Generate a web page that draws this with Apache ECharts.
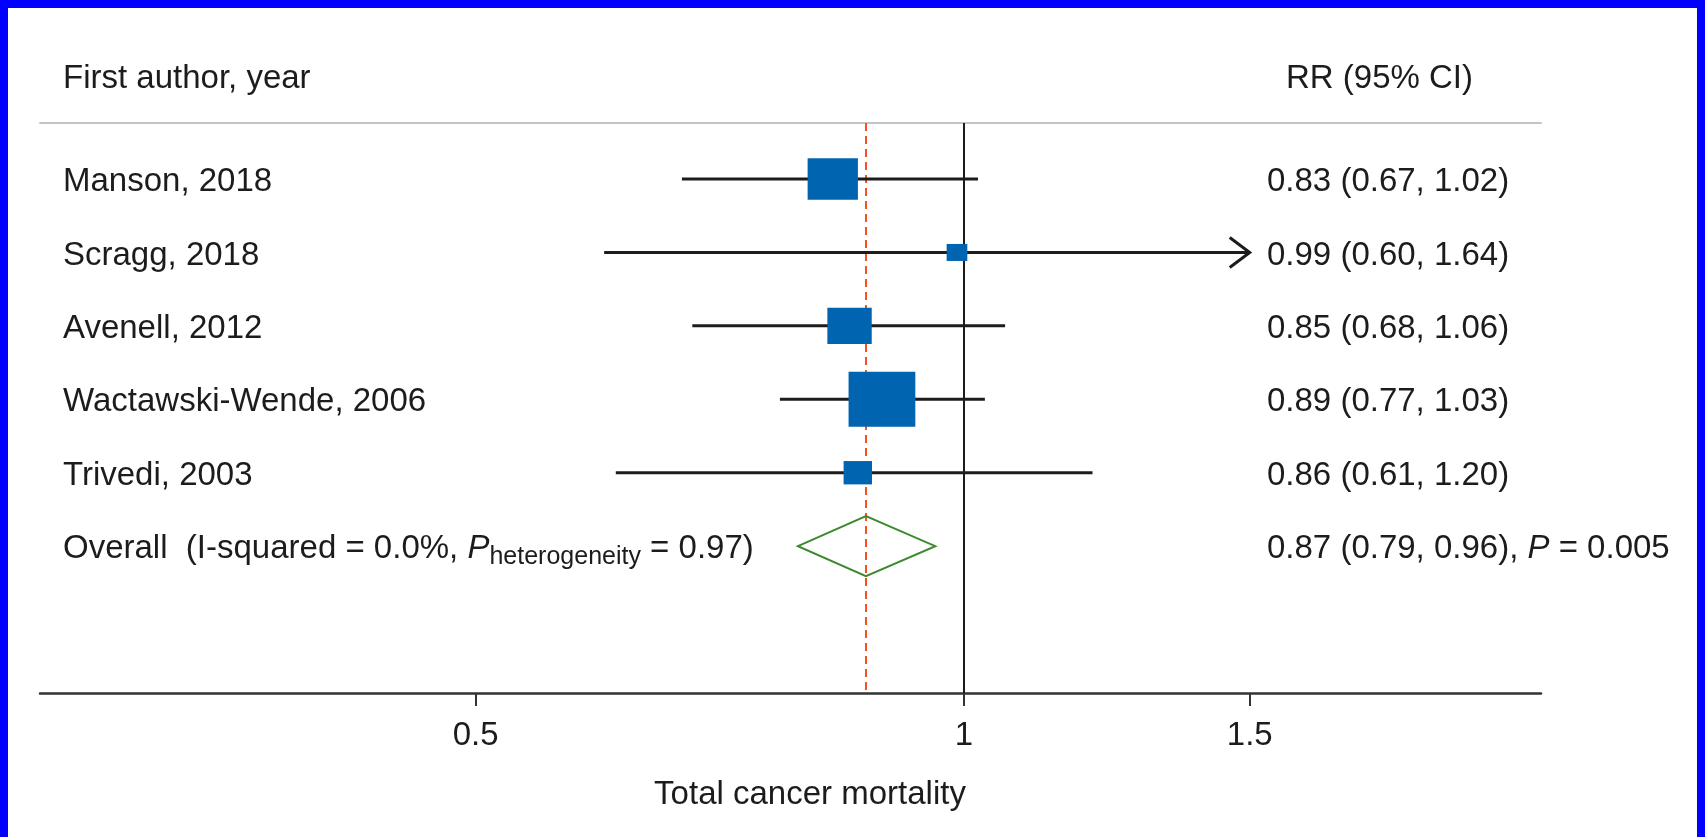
<!DOCTYPE html>
<html>
<head>
<meta charset="utf-8">
<script src="https://cdn.jsdelivr.net/npm/echarts@6/dist/echarts.min.js"></script>
<style>
html, body { margin: 0; padding: 0; background: #0000ff; width: 1705px; height: 837px; overflow: hidden; }
#forest { position: absolute; left: 8px; top: 8px; width: 1689px; height: 829px; background: #fff; }
</style>
</head>
<body>
<div id="forest"></div>
<script>
var studies = ['Manson, 2018', 'Scragg, 2018', 'Avenell, 2012', 'Wactawski-Wende, 2006', 'Trivedi, 2003'];
var rr = [0.83, 0.99, 0.85, 0.89, 0.86];
var ciLow = [0.67, 0.60, 0.68, 0.77, 0.61];
var ciHigh = [1.02, 1.64, 1.06, 1.03, 1.20];
// study weights (%)
var weights = [24.8, 4.2, 19.3, 43.7, 7.9];

var overallRR = 0.87, overallLow = 0.79, overallHigh = 0.96;
var iSquared = '0.0%', pHet = '0.97', pOverall = '0.005';

var tickValues = [0.5, 1, 1.5];
var axisMin = 0.2694, axisMax = 2.268;
var ciClip = 1.5;   // CIs beyond this get an arrow

var font = '"Liberation Sans", Arial, Helvetica, sans-serif';
var ink = '#1c1c1c';

function fmt(v) { return v.toFixed(2); }

var rows = studies.map(function (s, i) { return i; });
var overallRow = studies.length;

function renderCI(params, api) {
    var i = api.value(2);
    var hi = api.value(1);
    var a = api.coord([api.value(0), i]);
    var b = api.coord([Math.min(hi, ciClip), i]);
    var children = [{
        type: 'line',
        shape: { x1: a[0], y1: a[1], x2: b[0], y2: b[1] },
        style: { stroke: ink, lineWidth: 3 }
    }];
    if (hi > ciClip) {
        children.push({
            type: 'polyline',
            shape: { points: [[b[0] - 20, b[1] - 15], [b[0], b[1]], [b[0] - 20, b[1] + 15]] },
            style: { stroke: ink, lineWidth: 3, fill: 'none' }
        });
    }
    return { type: 'group', children: children };
}

function renderDiamond(params, api) {
    var row = api.value(3);
    var c = api.coord([api.value(0), row]);
    var l = api.coord([api.value(1), row]);
    var r = api.coord([api.value(2), row]);
    var h = 30;
    return {
        type: 'polygon',
        shape: { points: [[l[0], c[1]], [c[0], c[1] - h], [r[0], c[1]], [c[0], c[1] + h]] },
        style: { fill: 'none', stroke: '#3d8a2e', lineWidth: 2 }
    };
}

var rich = {
    n: { fontSize: 33, fontFamily: font, fill: ink },
    i: { fontSize: 33, fontFamily: font, fill: ink, fontStyle: 'italic' },
    s: { fontSize: 25, fontFamily: font, fill: ink, padding: [16, 0, 0, 0] }
};

function renderText(params, api) {
    var i = api.value(1);
    var y = api.coord([1, i])[1] + 3;
    var x0 = params.coordSys.x;
    var left, right;
    if (i < studies.length) {
        left = '{n|' + studies[i] + '}';
        right = '{n|' + fmt(rr[i]) + ' (' + fmt(ciLow[i]) + ', ' + fmt(ciHigh[i]) + ')}';
    } else {
        left = '{n|Overall  (I-squared = ' + iSquared + ', }{i|P}{s|heterogeneity}{n| = ' + pHet + ')}';
        right = '{n|' + fmt(overallRR) + ' (' + fmt(overallLow) + ', ' + fmt(overallHigh) + '), }{i|P}{n| = ' + pOverall + '}';
    }
    return {
        type: 'group',
        children: [
            { type: 'text', x: x0 + 23, y: y, style: { text: left, rich: rich, align: 'left', verticalAlign: 'middle' } },
            { type: 'text', x: x0 + 1227, y: y, style: { text: right, rich: rich, align: 'left', verticalAlign: 'middle' } }
        ]
    };
}

var chart = echarts.init(document.getElementById('forest'));

var option = {
    animation: false,
    grid: { left: 32, right: 156, top: 115, bottom: 144 },
    graphic: [
        { type: 'text', x: 55, y: 71, style: { text: 'First author, year', fontSize: 33, fontFamily: font, fill: ink, verticalAlign: 'middle' } },
        { type: 'text', x: 1278, y: 71, style: { text: 'RR (95% CI)', fontSize: 33, fontFamily: font, fill: ink, verticalAlign: 'middle' } }
    ],
    xAxis: [{
        type: 'log',
        min: axisMin,
        max: axisMax,
        axisLine: { onZero: false, lineStyle: { color: '#333', width: 2.5 } },
        axisTick: { customValues: tickValues, length: 13, lineStyle: { color: '#333', width: 2 } },
        axisLabel: { customValues: tickValues, margin: 26, color: ink, fontSize: 33, fontFamily: font },
        splitLine: { show: false },
        name: 'Total cancer mortality',
        nameLocation: 'middle',
        nameGap: 85,
        nameTextStyle: { fontSize: 33, fontFamily: font, color: ink, padding: [0, 0, 0, 39] }
    }, {
        type: 'log',
        position: 'top',
        min: axisMin,
        max: axisMax,
        axisLine: { onZero: false, lineStyle: { color: '#c4c4c4', width: 2 } },
        axisTick: { show: false },
        axisLabel: { show: false },
        splitLine: { show: false }
    }],
    yAxis: {
        type: 'value',
        min: -0.763,
        max: 7,
        inverse: true,
        show: false
    },
    series: [{
        type: 'custom',
        name: 'ci',
        renderItem: renderCI,
        encode: { x: [0, 1], y: 2 },
        data: rows.map(function (i) { return [ciLow[i], ciHigh[i], i]; }),
        z: 2,
        silent: true
    }, {
        type: 'scatter',
        name: 'rr',
        symbol: 'rect',
        symbolSize: function (v) {
            var s = Math.sqrt(v[2]);
            return [s * 10.1, s * 8.3];
        },
        itemStyle: { color: '#0064b1', opacity: 1 },
        data: rows.map(function (i) { return [rr[i], i, weights[i]]; }),
        z: 3,
        silent: true,
        markLine: {
            silent: true,
            symbol: 'none',
            z: 1,
            label: { show: false },
            data: [
                { xAxis: 1, lineStyle: { color: ink, width: 2, type: 'solid' } },
                { xAxis: overallRR, lineStyle: { color: '#f4511e', width: 2, type: [8, 5] } }
            ]
        }
    }, {
        type: 'custom',
        name: 'overall',
        renderItem: renderDiamond,
        encode: { x: [0, 1, 2], y: 3 },
        data: [[overallRR, overallLow, overallHigh, overallRow]],
        z: 3,
        silent: true
    }, {
        type: 'custom',
        name: 'text',
        renderItem: renderText,
        encode: { x: 0, y: 1 },
        data: rows.concat([overallRow]).map(function (i) { return [1, i]; }),
        z: 4,
        silent: true
    }]
};

chart.setOption(option);
</script>
</body>
</html>
